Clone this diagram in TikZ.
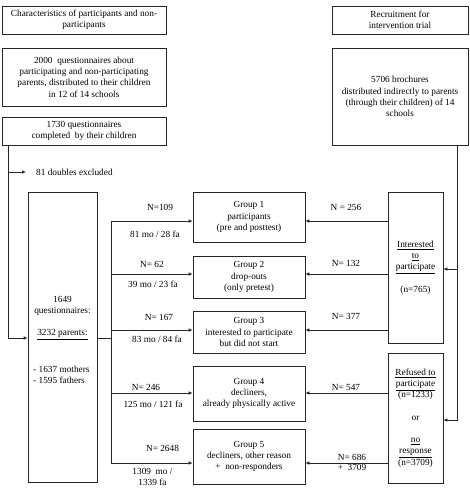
\documentclass[tikz,border=0pt]{standalone}
\usepackage{fontspec}
\setmainfont{Liberation Serif}
\usetikzlibrary{arrows.meta}
\tikzset{
box/.style={draw=black!85, line width=0.7pt, align=center, inner sep=0pt,
  font=\fontsize{9.3}{11.3}\selectfont},
lbl/.style={align=center, inner sep=1pt, font=\fontsize{9.3}{11.3}\selectfont},
ln/.style={draw=black!85, line width=0.7pt},
arr/.style={ln, -{Latex[length=4pt,width=3.6pt]}}
}

\begin{document}
\begin{tikzpicture}[x=1pt,y=-1pt]
\useasboundingbox (0,0) rectangle (470,488);
% left column
\node[box, minimum width=164, minimum height=28] (chars) at (84,20)
  {Characteristics of participants and non-\\participants};
\node[box, minimum width=164, minimum height=58] (quest) at (84,77)
  {2000~ questionnaires about\\participating and non-participating\\parents, distributed to their children\\in 12 of 14 schools};
\node[box, minimum width=164, minimum height=28] (compl) at (84,131)
  {1730 questionnaires\\completed~ by their children};
\node[box, minimum width=69, minimum height=290] (parents) at (62.5,337) {};
\node[lbl, anchor=north] (ptxt) at (62.5,295)
  {1649\\questionnaires:\\[11pt]\underline{3232 parents:}};
\node[lbl, align=left, anchor=north west] (pnum) at (32,365)
  {- 1637 mothers\\- 1595 fathers};
\node[lbl, anchor=west] (excl) at (35,172) {81 doubles excluded};
% right column
\node[box, minimum width=136, minimum height=28] (recr) at (400,20)
  {Recruitment for\\intervention trial};
\node[box, minimum width=136, minimum height=97] (broch) at (400,96.5)
  {5706 brochures\\distributed indirectly to parents\\(through their children) of 14\\schools};
\node[box, minimum width=55, minimum height=151] (intr) at (415.5,267.5)
  {\underline{Interested}\\\underline{to}\\\underline{participate}\\[11pt](n=765)};
\node[box, minimum width=55, minimum height=130] (refu) at (415.5,418)
  {\underline{Refused to}\\\underline{participate}\\(n=1233)\\[11pt]or\\[11pt]\underline{no}\\\underline{response}\\(n=3709)};
% groups
\node[box, minimum width=112, minimum height=50] (g1) at (249,217)
  {Group 1\\participants\\(pre and posttest)};
\node[box, minimum width=112, minimum height=42] (g2) at (249,277)
  {Group 2\\drop-outs\\(only pretest)};
\node[box, minimum width=112, minimum height=42] (g3) at (249,332)
  {Group 3\\interested to participate\\but did not start};
\node[box, minimum width=112, minimum height=55] (g4) at (249,393.5)
  {Group 4\\decliners,\\already physically active};
\node[box, minimum width=112, minimum height=55] (g5) at (249,456.5)
  {Group 5\\decliners, other reason\\+~ non-responders};

% left connectors
\coordinate (ltop) at (8,145);
\coordinate (lin) at (8,338);
\coordinate (lex) at (8,172);
\draw[arr] (ltop) |- (lin -| parents.west);
\draw[arr] (lex) -- ++(18,0);
\coordinate (tr) at (111,338);
\draw[ln] (lin -| parents.east) -- (tr);
\draw[ln] (111,221) -- (111,463);
\foreach \g/\y in {g1/221, g2/274, g3/330, g4/393, g5/463}
  \draw[arr] (111,\y) coordinate (s) -- (s -| \g.west);

% right connectors
\coordinate (rtop) at (457,145);
\coordinate (rmid) at (457,269);
\coordinate (rbot) at (457,420);
\draw[arr] (rtop) |- (rbot -| refu.east);
\draw[arr] (rmid) -- (rmid -| intr.east);
\foreach \b/\g/\y in {intr/g1/221, intr/g2/274, intr/g3/330, refu/g4/393, refu/g5/463}
  \draw[arr] (\b.west |- 0,\y) coordinate (r) -- (r -| \g.east);

% labels left
\node[lbl] (n1) at (160,207) {N=109};
\node[lbl] (m1) at (155,234) {81 mo / 28 fa};
\node[lbl] (n2) at (152,264) {N= 62};
\node[lbl] (m2) at (153,284) {39 mo / 23 fa};
\node[lbl] (n3) at (159,317) {N= 167};
\node[lbl] (m3) at (157,339) {83 mo / 84 fa};
\node[lbl] (n4) at (146,387) {N= 246};
\node[lbl] (m4) at (153,404) {125 mo / 121 fa};
\node[lbl] (n5) at (162.5,448) {N= 2648};
\node[lbl, font=\fontsize{9.3}{11}\selectfont] (m5) at (152.5,476.5) {1309~ mo /\\1339 fa};
% labels right
\node[lbl] (k1) at (346,207) {N = 256};
\node[lbl] (k2) at (346,263) {N= 132};
\node[lbl] (k3) at (346,316) {N= 377};
\node[lbl] (k4) at (346,387) {N= 547};
\node[lbl, font=\fontsize{9.3}{10}\selectfont] (k5) at (352,462) {N= 686\\+~ 3709};
\end{tikzpicture}
\end{document}
